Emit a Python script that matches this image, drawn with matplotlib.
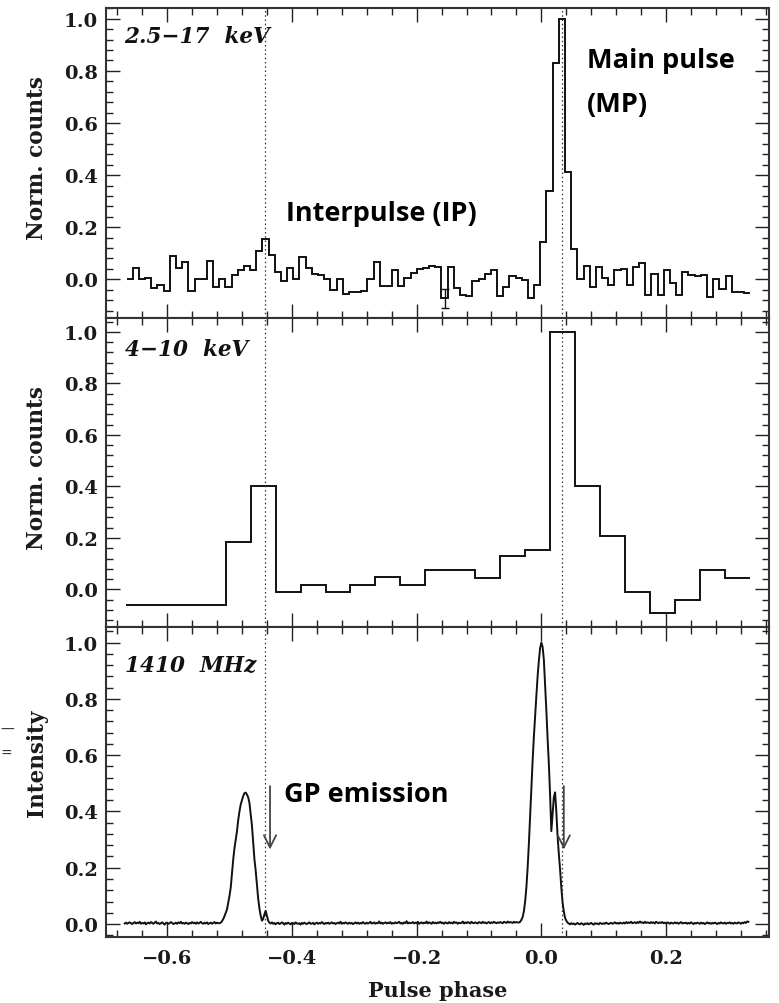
import numpy as np
import matplotlib
matplotlib.use("Agg")
import matplotlib.pyplot as plt
from matplotlib.ticker import MultipleLocator

# ---------------- data ----------------
# 2.5-17 keV histogram (101 phase bins)
top_bin_start = -0.665
top_bin_width = 0.0099
top_counts = [
    0.00, 0.045, 0.00, 0.005, -0.035, -0.02, -0.045, 0.088, 0.045, 0.065,
    -0.045, 0.00, 0.00, 0.07, -0.03, 0.00, -0.03, 0.017, 0.034, 0.05,
    0.037, 0.11, 0.155, 0.095, 0.03, -0.005, 0.045, 0.0, 0.085, 0.045,
    0.02, 0.015, 0.0, -0.04, 0.0, -0.055, -0.05, -0.05, -0.045, 0.0,
    0.065, -0.025, -0.025, 0.035, -0.025, 0.005, 0.025, 0.04, 0.045, 0.05,
    0.047, -0.073, 0.047, -0.034, -0.06, -0.064, -0.005, 0.0, 0.021, 0.037,
    -0.064, -0.028, 0.014, 0.005, -0.002, -0.073, -0.02, 0.143, 0.34, 0.83,
    1.0, 0.41, 0.115, 0.0, 0.05, -0.03, 0.047, 0.005, -0.021, 0.037,
    0.04, -0.02, 0.047, 0.063, -0.06, 0.021, -0.06, 0.037, -0.015, -0.06,
    0.027, 0.018, 0.014, 0.018, -0.069, 0.0, -0.036, 0.014, -0.047, -0.047,
    -0.054,
]
top_err_bin = 51
top_err_size = 0.037

# 4-10 keV histogram (25 phase bins)
mid_bin_start = -0.666
mid_bin_width = 0.04
mid_counts = [
    -0.062, -0.062, -0.062, -0.062, 0.183, 0.40, -0.009, 0.017, -0.009, 0.017,
    0.048, 0.017, 0.076, 0.076, 0.045, 0.129, 0.155, 1.0, 0.40, 0.209,
    -0.009, -0.093, -0.039, 0.076, 0.045,
]

# 1410 MHz radio profile (intensity in units of 0.001, phase step 0.002)
radio_start = -0.668
radio_step = 0.002
radio_milli = [
    2, 5, 1, 4, 6, 3, 0, 4, 7, 2,
    5, 3, 8, 1, 4, 2, 6, -1, 3, 5,
    2, 7, 4, 1, 5, 9, 2, 4, 0, 3,
    6, 2, -2, 4, 5, 1, 3, 7, 4, 0,
    2, 5, 1, 6, 3, 8, 2, 4, 1, 5,
    3, 0, 4, 2, 7, 3, 5, 1, 6, 2,
    4, 8, 3, 1, 5, 2, 6, 0, 3, 5,
    1, 4, 7, 2, 5, 3, 3, 5, 10, 18,
    28, 40, 52, 75, 100, 130, 180, 230, 270, 300,
    330, 370, 400, 425, 440, 455, 465, 467, 460, 450,
    430, 390, 350, 290, 230, 190, 140, 90, 55, 30,
    12, 18, 35, 47, 30, 12, 5, 2, 6, 1,
    4, -1, 3, 5, 0, 2, 6, 3, -2, 4,
    1, 5, 2, -1, 4, 3, 0, 6, 2, 1,
    3, -2, 4, 1, 5, 2, 0, 3, 6, 1,
    2, 4, -1, 3, 5, 1, 4, 2, 7, 3,
    0, 4, 2, 5, 1, 3, 6, 2, 4, 0,
    3, 5, 2, 8, 1, 4, 2, 6, 3, 1,
    5, 2, 4, 0, 3, 6, 2, 5, 1, 4,
    2, 7, 3, 1, 5, 2, 4, 8, 2, 3,
    6, 1, 4, 3, 9, 2, 5, 1, 4, 6,
    2, 5, 3, 7, 1, 4, 2, 6, 3, 5,
    8, 2, 4, 1, 6, 3, 10, 2, 5, 3,
    4, 7, 2, 5, 3, 8, 1, 4, 6, 2,
    5, 3, 9, 2, 6, 4, 1, 7, 3, 5,
    2, 6, 4, 8, 3, 5, 1, 6, 4, 2,
    7, 3, 5, 2, 8, 4, 6, 1, 5, 3,
    4, 9, 2, 6, 3, 7, 5, 2, 8, 4,
    3, 6, 4, 2, 7, 5, 3, 8, 4, 6,
    2, 5, 7, 3, 6, 4, 8, 5, 3, 6,
    4, 7, 5, 3, 8, 6, 4, 9, 5, 7,
    6, 4, 8, 5, 7, 6, 5, 8, 15, 25,
    45, 80, 130, 200, 285, 385, 490, 580, 665, 740,
    810, 880, 935, 980, 1000, 985, 940, 850, 760, 660,
    570, 460, 330, 390, 450, 468, 400, 313, 250, 195,
    130, 77, 45, 22, 12, 5, 2, -1, 3, 0,
    2, -2, 1, 4, 0, -1, 3, 1, -3, 2,
    0, 3, -1, 2, 4, 0, -2, 3, 1, 2,
    -1, 4, 2, 0, 3, 1, 5, 2, 0, 3,
    4, 1, 3, 6, 2, 4, 1, 5, 3, 2,
    5, 2, 7, 3, 6, 4, 8, 3, 5, 6,
    3, 7, 4, 9, 5, 6, 3, 8, 4, 6,
    5, 3, 7, 4, 6, 2, 8, 5, 3, 6,
    4, 7, 3, 5, 2, 6, 4, 1, 5, 3,
    2, 6, 3, 5, 1, 4, 7, 2, 4, 3,
    5, 1, 4, 2, 6, 3, 0, 4, 2, 5,
    3, 1, 5, 2, 4, 0, 3, 6, 2, 4,
    1, 4, 2, 5, 3, 0, 4, 2, 6, 3,
    2, 5, 1, 4, 3, 6, 2, 4, 1, 5,
    3, 2, 6, 4, 1, 5, 3, 7, 4, 9,
    8,
]

ip_phase = -0.443
mp_phase = 0.033
gp_arrow_phases = [-0.435, 0.036]
gp_arrow_top = 0.50
gp_arrow_bottom = 0.255

panel_labels = ["2.5\u221217  keV", "4\u221210  keV", "1410  MHz"]
y_labels = ["Norm. counts", "Norm. counts", "Intensity"]
x_label = "Pulse phase"
x_ticks = [-0.6, -0.4, -0.2, 0.0, 0.2]
x_ticklabels = ["\u22120.6", "\u22120.4", "\u22120.2", "0.0", "0.2"]
y_ticks = [0.0, 0.2, 0.4, 0.6, 0.8, 1.0]
x_limits = (-0.698, 0.365)
y_limits = [(-0.147, 1.041), (-0.147, 1.055), (-0.046, 1.054)]

# ---------------- figure ----------------
W, H = 779, 1004
fig = plt.figure(figsize=(W / 100, H / 100), dpi=100)
left, right = 106 / W, 769 / W
top, bottom = 1 - 9 / H, 1 - 938 / H
ph = (top - bottom) / 3

serif = "DejaVu Serif"
ink = "#1a1a1a"
ylabel_y = [0.519, 0.516, 0.565]
label_y = [0.945, 0.933, 0.918]
axes = []
for i in range(3):
    ax = fig.add_axes([left, top - (i + 1) * ph, right - left, ph])
    axes.append(ax)

for i, ax in enumerate(axes):
    ax.set_xlim(*x_limits)
    ax.set_ylim(*y_limits[i])
    ax.set_xticks(x_ticks)
    ax.set_yticks(y_ticks)
    ax.xaxis.set_minor_locator(MultipleLocator(0.04))
    ax.yaxis.set_minor_locator(MultipleLocator(0.04))
    ax.tick_params(which="both", direction="in", top=True, right=True,
                   width=1.0, colors="#222222")
    ax.tick_params(which="major", length=10)
    ax.tick_params(which="minor", length=5)
    for s in ax.spines.values():
        s.set_linewidth(1.5)
        s.set_color("#333333")
    ax.set_yticklabels([f"{t:.1f}" for t in y_ticks], fontfamily=serif,
                       fontweight="bold", fontsize=14, color=ink)
    ax.tick_params(axis="y", pad=6)
    if i < 2:
        ax.set_xticklabels([])
    else:
        ax.set_xticklabels(x_ticklabels, fontfamily=serif, fontweight="bold",
                           fontsize=14, color=ink)
    ax.tick_params(axis="x", pad=9)
    ax.set_ylabel(y_labels[i], fontfamily=serif, fontweight="bold",
                  fontsize=15.5, color=ink)
    ax.yaxis.set_label_coords(-0.088, ylabel_y[i])
    ax.axvline(ip_phase, color="#333333", lw=0.9, ls=(0, (1.2, 2.2)))
    ax.axvline(mp_phase, color="#333333", lw=0.9, ls=(0, (1.2, 2.2)))
    ax.text(0.028, label_y[i], panel_labels[i], transform=ax.transAxes,
            fontfamily=serif, fontstyle="italic", fontweight="bold",
            fontsize=15.5, va="top", ha="left", color="#111111")

axes[2].set_xlabel(x_label, fontfamily=serif, fontweight="bold",
                   fontsize=15, color=ink, labelpad=9)

# top histogram
top_edges = top_bin_start + top_bin_width * np.arange(len(top_counts) + 1)
axes[0].stairs(top_counts, top_edges, baseline=None, color="#111111", lw=1.4)
err_x = top_bin_start + top_bin_width * (top_err_bin + 0.5)
axes[0].errorbar([err_x], [top_counts[top_err_bin]], yerr=[top_err_size],
                 fmt="none", ecolor="#111111", elinewidth=1.0, capsize=3,
                 capthick=1.0)

# middle histogram
mid_edges = mid_bin_start + mid_bin_width * np.arange(len(mid_counts) + 1)
axes[1].stairs(mid_counts, mid_edges, baseline=None, color="#111111", lw=1.4)

# radio profile
radio_phase = radio_start + radio_step * np.arange(len(radio_milli))
radio_int = np.array(radio_milli) / 1000.0
axes[2].plot(radio_phase, radio_int, color="#111111", lw=1.4)

# GP arrows
for xp in gp_arrow_phases:
    axes[2].annotate("", xy=(xp, gp_arrow_bottom), xytext=(xp, gp_arrow_top),
                     arrowprops=dict(arrowstyle="->", color="#444444",
                                     lw=1.3, mutation_scale=22))

# annotations
ann_font = dict(fontfamily="Open Sans", fontweight="bold", fontsize=19.5,
                color="black", ha="left", va="baseline")
axes[0].text(0.725, 1 - (68 - 9) / 309, "Main pulse",
             transform=axes[0].transAxes, **ann_font)
axes[0].text(0.725, 1 - (112 - 9) / 309, "(MP)",
             transform=axes[0].transAxes, **ann_font)
axes[0].text(0.272, 1 - (221 - 9) / 309, "Interpulse (IP)",
             transform=axes[0].transAxes, **ann_font)
axes[2].text(0.268, 1 - (802 - 628) / 310, "GP emission",
             transform=axes[2].transAxes, **ann_font)

# stray marks at left edge of the original image
fig.text(0.0, 1 - 730 / H, "\u2014", fontsize=10, va="center", ha="left",
         color="#333333")
fig.text(0.0, 1 - 754 / H, "=", fontsize=10, va="center", ha="left",
         color="#333333")

fig.savefig("out.png", dpi=100)
